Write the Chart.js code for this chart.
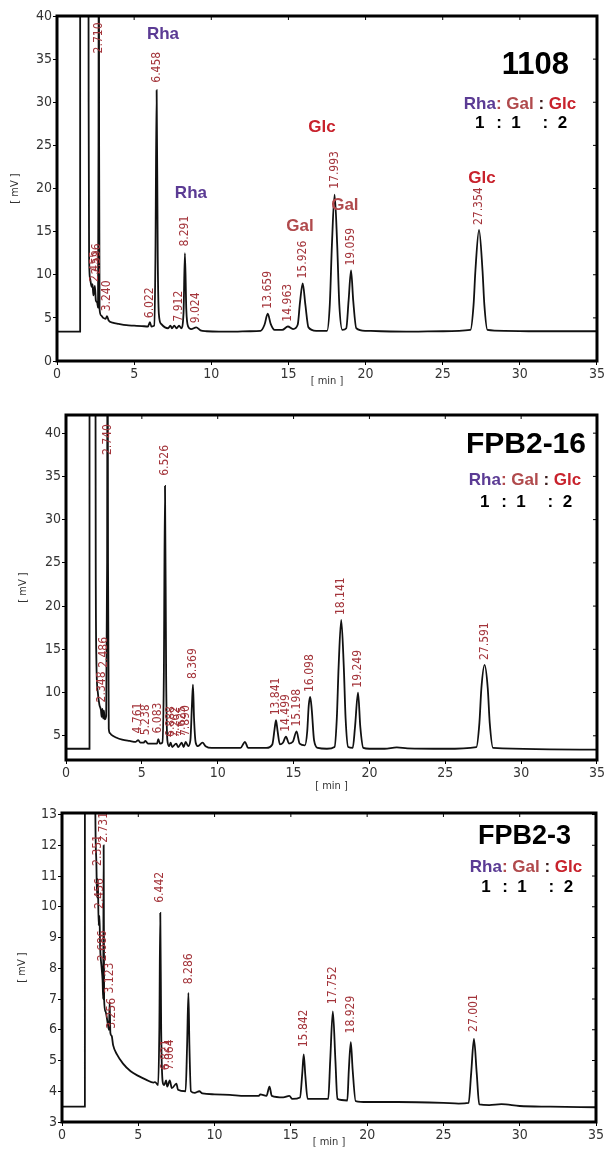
<!DOCTYPE html>
<html>
<head>
<meta charset="utf-8">
<script src="https://cdn.jsdelivr.net/npm/chart.js@4.4.0/dist/chart.umd.min.js"></script>
<style>
  html, body { margin: 0; padding: 0; background: #fff; }
  #wrap { position: relative; width: 606px; height: 1149px; overflow: hidden; }
  canvas { position: absolute; left: 0; display: block; }
</style>
</head>
<body>
<div id="wrap">
  <canvas id="c1" width="606" height="392" style="top:0px"></canvas>
  <canvas id="c2" width="606" height="405" style="top:392px"></canvas>
  <canvas id="c3" width="606" height="352" style="top:797px"></canvas>
</div>
<script>
// ---- data (time in min, signal in mV) ----
const sampleNames = ['1108', 'FPB2-16', 'FPB2-3'];
const ratioNames = ['Rha', 'Gal', 'Glc'];
const ratioValues = [1, 1, 2];

// sample 1108
const p1Time = [0, 1.5, 1.501, 2.03, 2.05, 2.08, 2.15, 2.25, 2.3, 2.36, 2.455, 2.52, 2.6, 2.66, 2.69, 2.71, 2.73, 2.76, 2.85, 3.0, 3.15, 3.24, 3.35, 3.6, 4.0, 4.5, 5.0, 5.5, 5.9, 6.022, 6.12, 6.3, 6.38, 6.458, 6.53, 6.6, 6.75, 7.0, 7.2, 7.35, 7.45, 7.6, 7.75, 7.912, 8.05, 8.2, 8.291, 8.38, 8.5, 8.7, 9.024, 9.3, 9.7, 10.5, 11.5, 12.5, 13.2, 13.45, 13.659, 13.85, 14.1, 14.6, 14.963, 15.3, 15.6, 15.75, 15.926, 16.1, 16.3, 16.8, 17.5, 17.68, 17.82, 17.993, 18.16, 18.3, 18.5, 18.75, 18.9, 19.059, 19.2, 19.4, 20, 21, 23, 25, 26.8, 27.0, 27.12, 27.354, 27.58, 27.7, 27.9, 29, 31, 33, 35];
const p1Signal = [3.4, 3.4, 60, 60, 30, 12, 9.5, 8.6, 8.9, 7.6, 8.7, 7.0, 6.8, 6.2, 25, 60, 25, 6.0, 5.3, 5.0, 4.9, 5.2, 4.7, 4.45, 4.3, 4.15, 4.1, 4.05, 4.0, 4.5, 4.0, 4.1, 12, 31.4, 12, 5.5, 4.3, 3.9, 3.8, 4.1, 3.8, 4.1, 3.8, 4.1, 3.8, 5.5, 12.5, 6.0, 4.0, 3.7, 3.9, 3.55, 3.45, 3.4, 3.4, 3.45, 3.5, 4.2, 5.5, 4.3, 3.6, 3.6, 4.0, 3.7, 4.2, 6.8, 9.0, 6.5, 3.9, 3.5, 3.5, 6.5, 13.5, 19.3, 13.5, 6.5, 3.6, 3.8, 7, 10.5, 7, 3.8, 3.5, 3.45, 3.4, 3.45, 3.6, 6.5, 10.5, 15.2, 10.5, 6.5, 3.6, 3.5, 3.45, 3.45, 3.45];
const p1PeakLabels = ['2.710', '2.455', '2.596', '3.240', '6.022', '6.458', '7.912', '8.291', '9.024', '13.659', '14.963', '15.926', '17.993', '19.059', '27.354'];
const p1PeakLevels = [35.2, 8.7, 9.6, 5.3, 4.5, 31.8, 4.1, 12.8, 3.9, 5.6, 4.1, 9.1, 19.5, 10.6, 15.3];
const p1SugarNames = ['Rha', 'Rha', 'Gal', 'Glc', 'Gal', 'Glc'];
const p1SugarTimes = [6.87, 8.68, 15.75, 17.17, 18.66, 27.54];
const p1SugarLevels = [37.9, 19.4, 15.65, 27.1, 18.0, 21.2];

// sample FPB2-16
const p2Time = [0, 1.55, 1.551, 1.93, 1.96, 2.0, 2.1, 2.2, 2.3, 2.35, 2.4, 2.45, 2.5, 2.55, 2.65, 2.71, 2.74, 2.77, 2.82, 2.9, 3.0, 3.3, 3.7, 4.2, 4.6, 4.761, 4.9, 5.1, 5.238, 5.4, 5.8, 6.0, 6.083, 6.2, 6.35, 6.45, 6.526, 6.6, 6.68, 6.8, 6.9, 7.0, 7.262, 7.4, 7.625, 7.75, 7.89, 8.05, 8.2, 8.3, 8.369, 8.44, 8.55, 8.7, 9.0, 9.2, 9.6, 10.5, 11.5, 11.8, 12.0, 12.5, 13.2, 13.6, 13.75, 13.841, 13.95, 14.1, 14.3, 14.499, 14.7, 14.95, 15.198, 15.4, 15.75, 15.9, 16.0, 16.098, 16.2, 16.35, 16.6, 17.2, 17.7, 17.85, 17.97, 18.141, 18.31, 18.43, 18.6, 18.9, 19.05, 19.249, 19.4, 19.6, 20, 21, 21.8, 22.5, 25, 27.05, 27.25, 27.38, 27.591, 27.8, 27.93, 28.15, 35];
const p2Signal = [3.5, 3.5, 60, 60, 25, 14, 10, 8.6, 8.0, 7.2, 8.1, 7.0, 7.9, 6.9, 7.3, 25, 60, 25, 5.8, 5.3, 5.1, 4.8, 4.55, 4.4, 4.3, 4.5, 4.2, 4.2, 4.4, 4.1, 4.1, 4.1, 4.6, 4.1, 4.2, 12, 33.9, 12, 4.5, 3.8, 4.2, 3.7, 4.1, 3.7, 4.2, 3.7, 4.3, 3.8, 4.5, 8.5, 10.9, 7, 4.2, 3.8, 4.2, 3.8, 3.6, 3.6, 3.6, 4.3, 3.6, 3.6, 3.6, 4.0, 5.8, 6.8, 5.5, 4.0, 4.2, 4.9, 4.1, 4.3, 5.5, 4.1, 3.9, 5.5, 8.5, 9.5, 8.0, 4.5, 3.6, 3.5, 3.7, 7, 13, 18.4, 13, 7, 3.7, 3.6, 6, 10.0, 6, 3.6, 3.5, 3.5, 3.65, 3.55, 3.5, 3.7, 6.5, 10.5, 13.2, 10.5, 6.5, 3.6, 3.4];
const p2PeakLabels = ['2.740', '2.348', '2.486', '4.761', '5.238', '6.083', '6.526', '6.888', '7.262', '7.625', '7.890', '8.369', '13.841', '14.499', '15.198', '16.098', '18.141', '19.249', '27.591'];
const p2PeakLevels = [37.0, 8.4, 12.4, 4.8, 4.6, 4.8, 34.6, 4.4, 4.3, 4.4, 4.5, 11.1, 6.9, 5.0, 5.6, 9.6, 18.5, 10.1, 13.3];

// sample FPB2-3
const p3Time = [0, 1.5, 1.501, 2.15, 2.18, 2.25, 2.3, 2.351, 2.4, 2.456, 2.5, 2.6, 2.66, 2.7, 2.731, 2.76, 2.85, 3.0, 3.08, 3.123, 3.17, 3.256, 3.35, 3.6, 4.0, 4.5, 5.0, 5.5, 6.0, 6.1, 6.3, 6.38, 6.442, 6.5, 6.6, 6.7, 6.821, 6.9, 7.064, 7.2, 7.5, 7.6, 8.1, 8.2, 8.286, 8.35, 8.45, 8.7, 9.0, 9.2, 10, 11, 12, 12.9, 13.0, 13.4, 13.6, 13.75, 14.5, 14.9, 15.1, 15.6, 15.75, 15.842, 15.95, 16.1, 17.45, 17.58, 17.752, 17.92, 18.05, 18.7, 18.8, 18.929, 19.05, 19.25, 20, 22, 25, 26, 26.65, 26.82, 27.001, 27.18, 27.35, 28, 28.8, 30, 32, 35];
const p3Signal = [3.5, 3.5, 20, 20, 13.5, 11.5, 10.3, 10.9, 9.4, 9.7, 8.7, 8.0, 7.6, 7.0, 12.0, 7.0, 6.6, 6.2, 6.0, 6.9, 5.9, 5.8, 5.5, 5.2, 4.9, 4.65, 4.5, 4.38, 4.28, 4.3, 4.2, 6, 9.8, 6, 4.3, 4.2, 4.35, 4.15, 4.35, 4.1, 4.25, 4.05, 4.0, 5.5, 7.2, 5.5, 4.0, 3.95, 4.0, 3.93, 3.9, 3.88, 3.85, 3.85, 3.9, 3.85, 4.15, 3.85, 3.8, 3.85, 3.75, 3.8, 4.6, 5.2, 4.5, 3.75, 3.75, 5.0, 6.6, 5.0, 3.75, 3.7, 4.7, 5.6, 4.7, 3.68, 3.65, 3.65, 3.62, 3.6, 3.62, 4.6, 5.7, 4.6, 3.57, 3.55, 3.58, 3.52, 3.5, 3.48];
const p3PeakLabels = ['2.731', '2.351', '2.456', '2.686', '3.123', '3.256', '6.442', '6.821', '7.064', '8.286', '15.842', '17.752', '18.929', '27.001'];
const p3PeakLevels = [11.95, 11.2, 9.8, 8.1, 7.05, 5.9, 10.0, 4.55, 4.55, 7.35, 5.3, 6.7, 5.75, 5.8];

// ---- styling ----
const NARROW = "'Liberation Sans Narrow', 'Arial Narrow', 'DejaVu Sans Condensed', sans-serif";
const BOLD = "'Liberation Sans', Arial, sans-serif";
const PEAK_COLOR = '#a3343a';
const SUGAR_COLORS = { Rha: '#5b3b94', Gal: '#b04a4c', Glc: '#c8222c' };

const decorPlugin = {
    id: 'decor',
    afterDatasetsDraw(chart, args, opts) {
        const { ctx, chartArea: a, scales: { x, y } } = chart;
        ctx.save();

        // retention time labels, rotated, sitting on top of each peak
        ctx.fillStyle = PEAK_COLOR;
        ctx.font = `12px ${NARROW}`;
        ctx.textAlign = 'left';
        ctx.textBaseline = 'middle';
        opts.peakLabels.forEach((lab, i) => {
            const px = x.getPixelForValue(parseFloat(lab));
            const py = y.getPixelForValue(opts.peakLevels[i]) - 4;
            ctx.save();
            ctx.translate(px, py);
            ctx.rotate(-Math.PI / 2);
            ctx.fillText(lab, 0, 0);
            ctx.restore();
        });

        // sugar names over the peaks (only the first panel has them)
        ctx.font = `bold 17px ${BOLD}`;
        ctx.textAlign = 'center';
        (opts.sugarNames || []).forEach((name, i) => {
            ctx.fillStyle = SUGAR_COLORS[name];
            ctx.fillText(name, x.getPixelForValue(opts.sugarTimes[i]), y.getPixelForValue(opts.sugarLevels[i]));
        });

        // sample name and molar ratio block, top right
        const h = opts.header;
        ctx.fillStyle = '#000';
        ctx.textAlign = 'right';
        ctx.font = `bold ${h.titleSize}px ${BOLD}`;
        ctx.fillText(opts.sample, a.right - h.titleRight, a.top + h.titleY);

        ctx.font = `bold 17px ${BOLD}`;
        ctx.textAlign = 'left';
        const parts = [
            [ratioNames[0], SUGAR_COLORS.Rha], [': ', SUGAR_COLORS.Gal],
            [ratioNames[1], SUGAR_COLORS.Gal], [' : ', '#3a1a1a'],
            [ratioNames[2], SUGAR_COLORS.Glc]
        ];
        const total = parts.reduce((s, p) => s + ctx.measureText(p[0]).width, 0);
        let cx = a.right - h.ratioCenter - total / 2;
        const centers = [];
        parts.forEach(([txt, col]) => {
            const w = ctx.measureText(txt).width;
            ctx.fillStyle = col;
            ctx.fillText(txt, cx, a.top + h.ratioY);
            centers.push(cx + w / 2);
            cx += w;
        });
        // numbers line up under names, colons under colons
        ctx.fillStyle = '#000';
        ctx.textAlign = 'center';
        const numY = a.top + h.numY;
        ctx.fillText(String(ratioValues[0]), centers[0], numY);
        ctx.fillText(':', centers[1] - 2, numY);
        ctx.fillText(String(ratioValues[1]), centers[2] - 4, numY);
        ctx.fillText(':', centers[3] + 4, numY);
        ctx.fillText(String(ratioValues[2]), centers[4], numY);
        ctx.restore();
    },
    afterDraw(chart) {
        const { ctx, chartArea: a, scales: { x, y } } = chart;
        ctx.save();
        ctx.strokeStyle = '#000';
        ctx.lineWidth = 1;
        // small inward ticks on the top and right edges
        ctx.beginPath();
        x.ticks.forEach(t => {
            const px = x.getPixelForValue(t.value);
            ctx.moveTo(px, a.top);
            ctx.lineTo(px, a.top + 4);
        });
        y.ticks.forEach(t => {
            const py = y.getPixelForValue(t.value);
            ctx.moveTo(a.right, py);
            ctx.lineTo(a.right - 4, py);
        });
        ctx.stroke();
        // heavy frame
        ctx.lineWidth = 3;
        ctx.strokeRect(a.left, a.top, a.right - a.left, a.bottom - a.top);
        ctx.restore();
    }
};

function drawPanel(id, p) {
    const canvas = document.getElementById(id);
    const points = p.time.map((t, i) => ({ x: t, y: p.signal[i] }));
    return new Chart(canvas, {
        type: 'line',
        data: {
            datasets: [{
                data: points,
                borderColor: '#111',
                borderWidth: 1.8,
                pointRadius: 0,
                fill: false,
                cubicInterpolationMode: 'monotone'
            }]
        },
        options: {
            responsive: false,
            animation: false,
            layout: { padding: { top: p.area.top, right: 606 - p.area.right, bottom: 0, left: 0 } },
            plugins: {
                legend: { display: false },
                tooltip: { enabled: false },
                decor: {
                    peakLabels: p.peakLabels,
                    peakLevels: p.peakLevels,
                    sugarNames: p.sugarNames,
                    sugarTimes: p.sugarTimes,
                    sugarLevels: p.sugarLevels,
                    sample: p.sample,
                    header: p.header
                }
            },
            scales: {
                x: {
                    type: 'linear',
                    min: 0,
                    max: 35,
                    afterFit: s => { s.height = canvas.height - p.area.bottom; },
                    border: { display: false },
                    grid: { drawOnChartArea: false, tickLength: 4, color: '#000' },
                    ticks: { stepSize: 5, padding: 1, color: '#333', font: { family: NARROW, size: 14 } },
                    title: { display: true, text: '[ min ]', color: '#333', font: { family: NARROW, size: 11 }, padding: { top: 0, bottom: p.minPad } }
                },
                y: {
                    type: 'linear',
                    min: p.yMin,
                    max: p.yMax,
                    afterFit: s => { s.width = p.area.left; },
                    border: { display: false },
                    grid: { drawOnChartArea: false, tickLength: 4, color: '#000' },
                    ticks: { stepSize: p.yStep, includeBounds: false, padding: 1, color: '#333', font: { family: NARROW, size: 14 } },
                    title: { display: true, text: '[ mV ]', color: '#333', font: { family: NARROW, size: 11 }, padding: { top: p.mvPad, bottom: 0 } }
                }
            }
        },
        plugins: [decorPlugin]
    });
}

drawPanel('c1', {
    time: p1Time, signal: p1Signal,
    peakLabels: p1PeakLabels, peakLevels: p1PeakLevels,
    sugarNames: p1SugarNames, sugarTimes: p1SugarTimes, sugarLevels: p1SugarLevels,
    sample: sampleNames[0],
    yMin: 0, yMax: 40, yStep: 5,
    area: { left: 57, top: 16, right: 597, bottom: 361 },
    minPad: 4, mvPad: 8.5,
    header: { titleSize: 31, titleRight: 28, titleY: 49, ratioCenter: 77, ratioY: 88, numY: 107 }
});

drawPanel('c2', {
    time: p2Time, signal: p2Signal,
    peakLabels: p2PeakLabels, peakLevels: p2PeakLevels,
    sample: sampleNames[1],
    yMin: 2.2, yMax: 42.1, yStep: 5,
    area: { left: 66, top: 23, right: 598, bottom: 368 },
    minPad: 4, mvPad: 16.5,
    header: { titleSize: 30, titleRight: 11, titleY: 30, ratioCenter: 72, ratioY: 65, numY: 87 }
});

drawPanel('c3', {
    time: p3Time, signal: p3Signal,
    peakLabels: p3PeakLabels, peakLevels: p3PeakLevels,
    sample: sampleNames[2],
    yMin: 3, yMax: 13.05, yStep: 1,
    area: { left: 62, top: 16, right: 596, bottom: 325 },
    minPad: 0, mvPad: 16,
    header: { titleSize: 27, titleRight: 25, titleY: 24, ratioCenter: 70, ratioY: 54, numY: 74 }
});
</script>
</body>
</html>
